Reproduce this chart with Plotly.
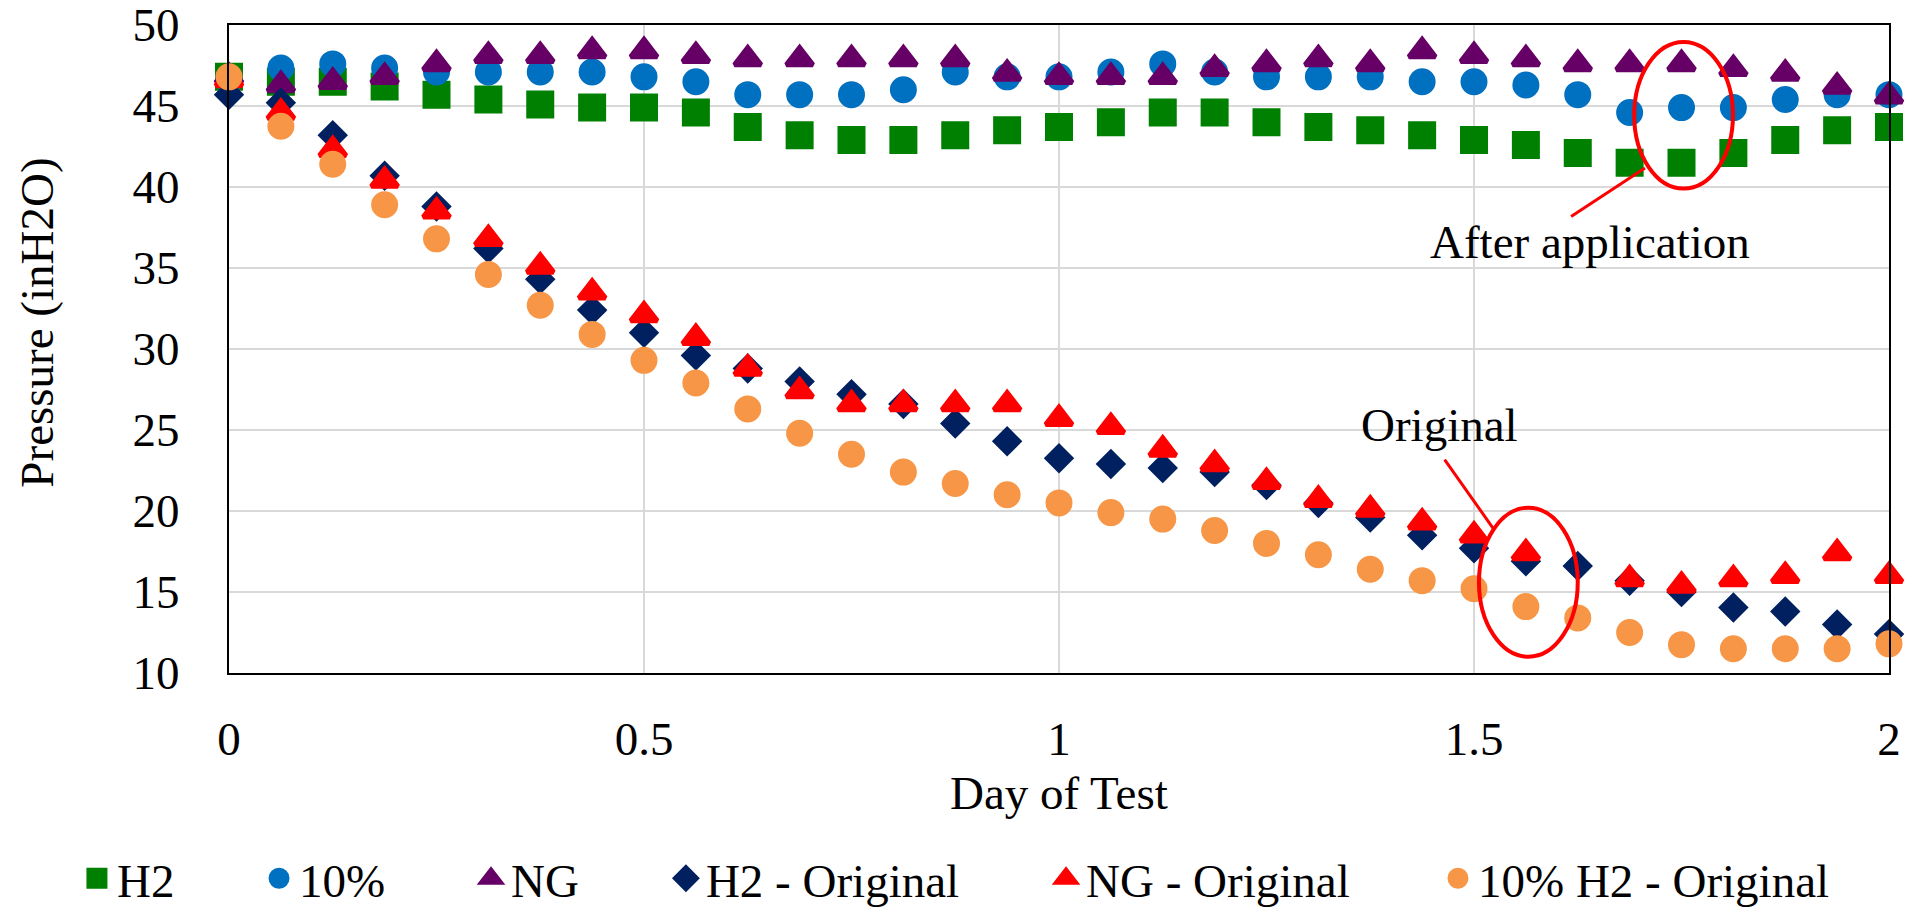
import plotly.graph_objects as go

# ---- data ----
days = [0, 0.0625, 0.125, 0.1875, 0.25, 0.3125, 0.375, 0.4375, 0.5, 0.5625, 0.625, 0.6875,
        0.75, 0.8125, 0.875, 0.9375, 1.0, 1.0625, 1.125, 1.1875, 1.25, 1.3125, 1.375, 1.4375,
        1.5, 1.5625, 1.625, 1.6875, 1.75, 1.8125, 1.875, 1.9375, 2.0]

h2 = [46.8, 46.5, 46.5, 46.2, 45.7, 45.4, 45.1, 44.9, 44.9, 44.6, 43.7, 43.2, 42.9, 42.9,
      43.2, 43.5, 43.7, 44.0, 44.6, 44.6, 44.0, 43.7, 43.5, 43.2, 42.9, 42.6, 42.1, 41.5,
      41.5, 42.1, 42.9, 43.5, 43.7]

pct10 = [46.6, 47.35, 47.6, 47.35, 47.1, 47.1, 47.1, 47.1, 46.8, 46.5, 45.7, 45.7, 45.7,
         46.0, 47.1, 46.8, 46.8, 47.1, 47.6, 47.1, 46.8, 46.8, 46.8, 46.5, 46.5, 46.3, 45.7,
         44.6, 44.9, 44.9, 45.4, 45.7, 45.7]

ng = [46.8, 46.3, 46.5, 46.8, 47.6, 48.1, 48.1, 48.4, 48.4, 48.1, 47.9, 47.9, 47.9, 47.9,
      47.9, 47.0, 46.8, 46.8, 46.8, 47.3, 47.6, 47.9, 47.6, 48.4, 48.1, 47.9, 47.6, 47.6,
      47.6, 47.3, 47.0, 46.2, 45.6]

h2_orig = [45.7, 45.2, 43.2, 40.7, 38.8, 36.2, 34.3, 32.4, 31.0, 29.6, 28.8, 28.0, 27.2,
           26.6, 25.4, 24.3, 23.25, 22.9, 22.65, 22.4, 21.6, 20.5, 19.6, 18.5, 17.7, 16.9,
           16.6, 15.7, 15.0, 14.05, 13.8, 13.0, 12.4]

ng_orig = [46.6, 44.6, 42.3, 40.4, 38.5, 36.8, 35.1, 33.5, 32.1, 30.7, 28.8, 27.4, 26.6,
           26.6, 26.6, 26.6, 25.7, 25.2, 23.8, 22.9, 21.8, 20.7, 20.1, 19.3, 18.5, 17.4,
           None, 15.8, 15.4, 15.8, 16.0, 17.4, 16.0]

pct10_orig = [46.8, 43.75, 41.4, 38.9, 36.8, 34.6, 32.7, 30.9, 29.3, 27.9, 26.3, 24.8, 23.5,
              22.4, 21.7, 21.0, 20.5, 19.9, 19.5, 18.8, 18.0, 17.3, 16.4, 15.7, 15.2, 14.1,
              13.4, 12.5, 11.75, 11.5, 11.5, 11.5, 11.8]

series_names = ["H2", "10%", "NG", "H2 - Original", "NG - Original", "10% H2 - Original"]
x_ticks = [0, 0.5, 1, 1.5, 2]
x_tick_labels = ["0", "0.5", "1", "1.5", "2"]
y_ticks = [10, 15, 20, 25, 30, 35, 40, 45, 50]
y_tick_labels = ["10", "15", "20", "25", "30", "35", "40", "45", "50"]

# ---- style ----
FONT = "Liberation Serif, Times New Roman, serif"
FS = 47
styles = [
    dict(symbol="square", color="#008000", size=23),
    dict(symbol="circle", color="#0070C0", size=22),
    dict(symbol="triangle-up", color="#660066", size=23),
    dict(symbol="diamond", color="#002060", size=18),
    dict(symbol="triangle-up", color="#FF0000", size=23),
    dict(symbol="circle", color="#F79646", size=22),
]
values = [h2, pct10, ng, h2_orig, ng_orig, pct10_orig]
legend_x = [-0.0916, 0.0181, 0.1458, 0.2632, 0.4922, 0.7283]

fig = go.Figure()
for k, (name, vals, st) in enumerate(zip(series_names, values, styles)):
    fig.add_trace(go.Scatter(
        x=days, y=vals, mode="markers", name=name,
        marker=dict(symbol=st["symbol"], color=st["color"], size=st["size"],
                    line=dict(width=5, color=st["color"])),
        cliponaxis=False,
        legend="legend" if k == 0 else f"legend{k+1}",
    ))

legend_common = dict(orientation="h", y=-0.3175, yanchor="middle", xanchor="left",
                     font=dict(family=FONT, size=FS, color="black"),
                     bgcolor="rgba(0,0,0,0)", borderwidth=0)
legends = {}
for k, lx in enumerate(legend_x):
    key = "legend" if k == 0 else f"legend{k+1}"
    legends[key] = dict(legend_common, x=lx)

fig.update_layout(
    width=1906, height=907, autosize=False,
    margin=dict(l=229, r=17, t=25, b=234, pad=0, autoexpand=False),
    paper_bgcolor="white", plot_bgcolor="white",
    font=dict(family=FONT, size=FS, color="black"),
    showlegend=True,
    **legends,
)

fig.update_xaxes(range=[0, 2], tickvals=x_ticks, ticktext=x_tick_labels,
                 showgrid=True, gridcolor="#D9D9D9", gridwidth=1.5, zeroline=False,
                 showline=True, linecolor="black", linewidth=2, mirror=True,
                 ticks="outside", ticklen=24, tickcolor="rgba(0,0,0,0)", automargin=False,
                 ticklabeloverflow="allow",
                 tickfont=dict(family=FONT, size=FS, color="black"))
fig.update_yaxes(range=[10, 50], tickvals=y_ticks, ticktext=y_tick_labels,
                 showgrid=True, gridcolor="#D9D9D9", gridwidth=1.5, zeroline=False,
                 showline=True, linecolor="black", linewidth=2, mirror=True,
                 ticks="outside", ticklen=38, tickcolor="rgba(0,0,0,0)", automargin=False,
                 ticklabeloverflow="allow",
                 tickfont=dict(family=FONT, size=FS, color="black"))

# axis titles
fig.add_annotation(text="Day of Test", xref="paper", yref="paper", x=0.5, y=-0.1847,
                   xanchor="center", yanchor="middle", showarrow=False,
                   font=dict(family=FONT, size=FS, color="black"))
fig.add_annotation(text="Pressure (inH2O)", xref="paper", yref="paper", x=-0.1157, y=0.5406,
                   xanchor="center", yanchor="middle", showarrow=False, textangle=-90,
                   font=dict(family=FONT, size=FS, color="black"))

# callouts
fig.add_annotation(text="After application", x=1.64, y=36.6, xref="x", yref="y",
                   showarrow=False, font=dict(family=FONT, size=FS, color="black"))
fig.add_annotation(text="Original", x=1.458, y=25.3, xref="x", yref="y",
                   showarrow=False, font=dict(family=FONT, size=FS, color="black"))
fig.add_shape(type="circle", xref="x", yref="y", x0=1.693, x1=1.812, y0=39.9, y1=48.95,
              line=dict(color="#FF0000", width=4))
fig.add_shape(type="line", xref="x", yref="y", x0=1.706, y0=41.17, x1=1.617, y1=38.18,
              line=dict(color="#FF0000", width=3))
fig.add_shape(type="circle", xref="x", yref="y", x0=1.506, x1=1.625, y0=11.0, y1=20.2,
              line=dict(color="#FF0000", width=4))
fig.add_shape(type="line", xref="x", yref="y", x0=1.4646, y0=23.17, x1=1.5235, y1=18.9,
              line=dict(color="#FF0000", width=3))

fig.write_html("out.html", config={"displayModeBar": False},
               post_script="document.body.style.margin='0';document.body.style.overflow='hidden';")
